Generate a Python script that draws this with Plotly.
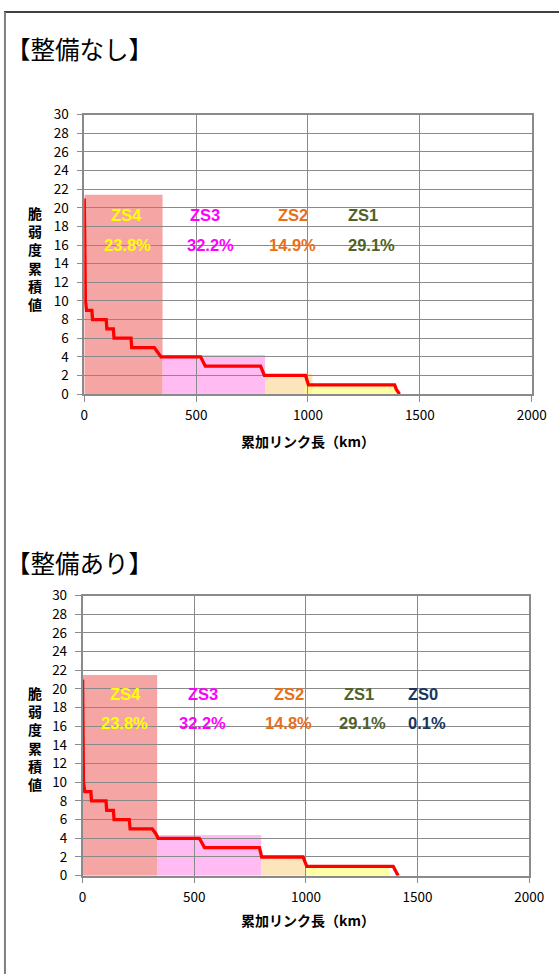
import plotly.graph_objects as go

# ---------------- data ----------------
titles = ["【整備なし】", "【整備あり】"]

# step line: cumulative link length (km) vs cumulative vulnerability
line1_x = [0, 2, 5, 10, 34, 37, 98, 101, 130, 133, 209, 212, 313, 328, 343, 520, 530, 541,
           788, 795, 805, 989, 1002, 1387, 1395, 1409]
line1_y = [21, 11, 10, 9, 9, 8, 8, 7, 7, 6, 6, 5, 5, 4.5, 4, 4, 3.5, 3,
           3, 2.5, 2, 2, 1, 1, 0.5, 0]
line2_x = [0, 2, 4, 10, 37, 40, 105, 108, 138, 141, 209, 213, 312, 328, 338, 523, 535, 546,
           792, 797, 802, 987, 1004, 1391, 1400, 1413]
line2_y = [21, 11, 10, 9, 9, 8, 8, 7, 7, 6, 6, 5, 5, 4.5, 4, 4, 3.5, 3,
           3, 2.5, 2, 2, 1, 1, 0.5, 0]

# zone rectangles (x0, x1, top)
zones1_x0 = [0, 350, 808, 985]
zones1_x1 = [350, 808, 1020, 1395]
zones1_top = [21.4, 4.2, 2.15, 1.1]
zones2_x0 = [0, 334, 800, 995]
zones2_x1 = [334, 800, 995, 1376]
zones2_top = [21.5, 4.35, 2.2, 1.15]
zone_fill = ["rgba(240,110,110,0.62)", "rgba(255,150,235,0.65)",
             "rgba(252,215,150,0.65)", "rgba(255,255,130,0.7)"]

# zone labels
lab1 = ["ZS4", "ZS3", "ZS2", "ZS1"]
pct1 = ["23.8%", "32.2%", "14.9%", "29.1%"]
lab1_x = [190, 540, 932, 1245]
pct1_x = [194, 562, 932, 1283]
lab2 = ["ZS4", "ZS3", "ZS2", "ZS1", "ZS0"]
pct2 = ["23.8%", "32.2%", "14.8%", "29.1%", "0.1%"]
lab2_x = [191, 541, 924, 1238, 1525]
pct2_x = [188, 536, 924, 1253, 1541]
lab_colors = ["#FFFF00", "#FF00FF", "#E8701A", "#4F6228", "#17375E"]

y_ticks = list(range(0, 31, 2))
x_ticks = [0, 500, 1000, 1500, 2000]
x_title = "累加リンク長（km）"
y_title = "脆<br>弱<br>度<br>累<br>積<br>値"

# ---------------- geometry ----------------
# target positions are given in picture pixels; the photographed page maps
# page px -> picture px as  X = SX*x + OX,  Y = SY*y + OY
SX, OX = 0.966, 4.8
SY, OY = 0.982, 9.0
W, H = 575, 984  # figure size in page px (body margin removed)

def fx(t):
    return ((t - OX) / SX) / W

def fy(t):
    return 1 - ((t - OY) / SY) / H

plots = [
    dict(x0=85, x1=532, ytop=113, ybot=393, title_y=47, ytitle_y=257.5, xtitle_y=440,
         lx=line1_x, ly=line1_y, zx0=zones1_x0, zx1=zones1_x1, zt=zones1_top,
         labs=lab1, pcts=pct1, labx=lab1_x, pctx=pct1_x, laby=19.2, pcty=16.0),
    dict(x0=83.3, x1=529.5, ytop=595, ybot=875.7, title_y=562, ytitle_y=738, xtitle_y=920,
         lx=line2_x, ly=line2_y, zx0=zones2_x0, zx1=zones2_x1, zt=zones2_top,
         labs=lab2, pcts=pct2, labx=lab2_x, pctx=pct2_x, laby=19.5, pcty=16.4),
]

fig = go.Figure()
shapes = []
annotations = []
FONT = "Noto Sans CJK JP"
LABFONT = "Liberation Sans"

for i, p in enumerate(plots):
    n = "" if i == 0 else str(i + 1)
    xa, ya = "x" + n, "y" + n
    fig.add_trace(go.Scatter(x=p["lx"], y=p["ly"], mode="lines",
                             line=dict(color="#FF0000", width=3.3),
                             xaxis=xa, yaxis=ya, showlegend=False, hoverinfo="skip"))
    for x0, x1, t, c in zip(p["zx0"], p["zx1"], p["zt"], zone_fill):
        shapes.append(dict(type="rect", xref=xa, yref=ya, x0=x0, x1=x1, y0=0, y1=t,
                           fillcolor=c, line=dict(width=0), layer="below"))
    for k, (lb, pc) in enumerate(zip(p["labs"], p["pcts"])):
        annotations.append(dict(x=p["labx"][k], y=p["laby"], xref=xa, yref=ya,
                                text="<b>" + lb + "</b>",
                                showarrow=False, font=dict(family=LABFONT, size=16.5,
                                color=lab_colors[k])))
        annotations.append(dict(x=p["pctx"][k], y=p["pcty"], xref=xa, yref=ya,
                                text="<b>" + pc + "</b>",
                                showarrow=False, font=dict(family=LABFONT, size=16.5,
                                color=lab_colors[k])))
    # panel title
    annotations.append(dict(x=0.0, y=fy(p["title_y"]), xref="paper", yref="paper",
                            xanchor="left", yanchor="middle", text=titles[i], showarrow=False,
                            font=dict(family=FONT, size=24.5, color="#000")))
    # vertical y title
    annotations.append(dict(x=fx(36), y=fy(p["ytitle_y"]), xref="paper", yref="paper",
                            xanchor="center", yanchor="middle", text="<b>" + y_title + "</b>",
                            showarrow=False, align="center", borderpad=0,
                            font=dict(family=FONT, size=14, color="#000")))
    # x title
    annotations.append(dict(x=fx(308.7), y=fy(p["xtitle_y"]), xref="paper", yref="paper",
                            xanchor="center", yanchor="middle", text="<b>" + x_title + "</b>",
                            showarrow=False, font=dict(family=FONT, size=14, color="#000")))
    axcommon = dict(showgrid=True, gridcolor="#8a8a8a", gridwidth=1, zeroline=False,
                    showline=True, linecolor="#8a8a8a", linewidth=1.5, mirror=True,
                    ticks="outside", ticklen=6, tickcolor="#8a8a8a",
                    tickfont=dict(family=FONT, size=13.5, color="#000"))
    fig.update_layout(**{
        "xaxis" + n: dict(domain=[fx(p["x0"]), fx(p["x1"])], range=[0, 2000],
                          tickvals=x_ticks, anchor=ya, ticklabelstandoff=2, **axcommon),
        "yaxis" + n: dict(domain=[fy(p["ybot"]), fy(p["ytop"])], range=[0, 30],
                          tickvals=y_ticks, anchor=xa, ticklabelstandoff=5, **axcommon),
    })

# page frame
shapes.append(dict(type="line", xref="paper", yref="paper", x0=0, x1=1.0,
                   y0=fy(10), y1=fy(10), line=dict(color="#000", width=1.3)))
shapes.append(dict(type="line", xref="paper", yref="paper", x0=1.0 / W, x1=1.0 / W,
                   y0=fy(10), y1=0, line=dict(color="#808080", width=2)))

fig.update_layout(width=W, height=H, margin=dict(l=0, r=0, t=0, b=0),
                  paper_bgcolor="white", plot_bgcolor="white",
                  shapes=shapes, annotations=annotations, showlegend=False)

fig.write_html("out.html", config={"displayModeBar": False},
               post_script="document.body.style.margin='0';document.body.style.overflow='hidden';")
